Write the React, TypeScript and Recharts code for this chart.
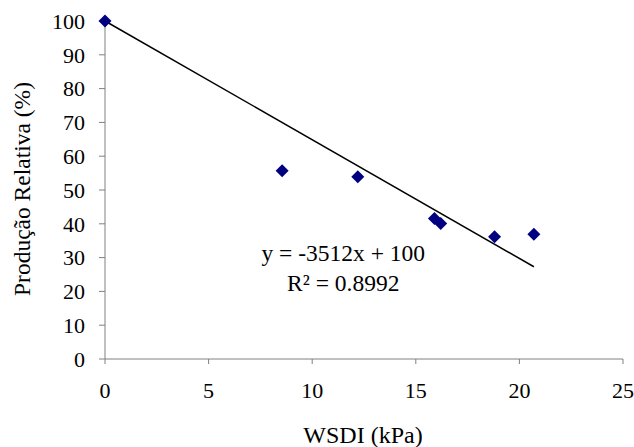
import { ComposedChart, Scatter, Line, XAxis, YAxis, ReferenceDot } from 'recharts'

const wsdi = [0, 8.55, 12.2, 15.9, 16.2, 18.8, 20.7]
const producao = [100, 55.7, 53.9, 41.6, 40.1, 36.2, 36.9]
const trendX = [0, 20.7]
const trendY = [100, 27.3]
const xTicks = [0, 5, 10, 15, 20, 25]
const yTicks = [0, 10, 20, 30, 40, 50, 60, 70, 80, 90, 100]

const points = wsdi.map((x, i) => ({ x, y: producao[i] }))
const trend = trendX.map((x, i) => ({ x, y: trendY[i] }))

const font = "'Liberation Serif', 'Times New Roman', serif"

const Diamond = (props: any) => {
    const { cx, cy } = props
    const r = 6.5
    return <polygon points={`${cx},${cy - r} ${cx + r},${cy} ${cx},${cy + r} ${cx - r},${cy}`} fill="#000080" />
}

export default function App() {
    return (
        <div style={{ position: 'absolute', left: 0, top: 0, width: 634, height: 447, background: '#fff' }}>
            <style>{`.recharts-wrapper text, .recharts-wrapper tspan { font-family: ${font}; }`}</style>
            <ComposedChart width={634} height={447} margin={{ top: 21, right: 11, bottom: 0, left: 0 }}>
                <XAxis
                    type="number"
                    dataKey="x"
                    domain={[0, 25]}
                    ticks={xTicks}
                    height={88}
                    stroke="#808080"
                    tickSize={5}
                    tickMargin={18}
                    tick={{ fill: '#000', fontSize: 22 }}
                    label={{ content: () => <text x={363} y={443} textAnchor="middle" fontSize={24} fill="#000">WSDI (kPa)</text> }}
                />
                <YAxis
                    type="number"
                    dataKey="y"
                    domain={[0, 100]}
                    ticks={yTicks}
                    width={105}
                    stroke="#808080"
                    tickSize={6}
                    tickMargin={14}
                    tick={{ fill: '#000', fontSize: 22 }}
                    label={{ content: () => <text x={30} y={189} transform="rotate(-90, 30, 189)" textAnchor="middle" fontSize={23.5} fill="#000">Produção Relativa (%)</text> }}
                />
                <Line data={trend} dataKey="y" stroke="#000" strokeWidth={1.5} dot={false} activeDot={false} isAnimationActive={false} legendType="none" />
                <Scatter data={points} dataKey="y" shape={Diamond} isAnimationActive={false} />
                <ReferenceDot x={11.5} y={31.4} r={0} label={{ value: 'y = -3512x + 100', position: 'center', fontSize: 23.5, fill: '#000' }} />
                <ReferenceDot x={11.5} y={22.6} r={0} label={{ value: 'R² = 0.8992', position: 'center', fontSize: 23.5, fill: '#000' }} />
            </ComposedChart>
        </div>
    )
}
